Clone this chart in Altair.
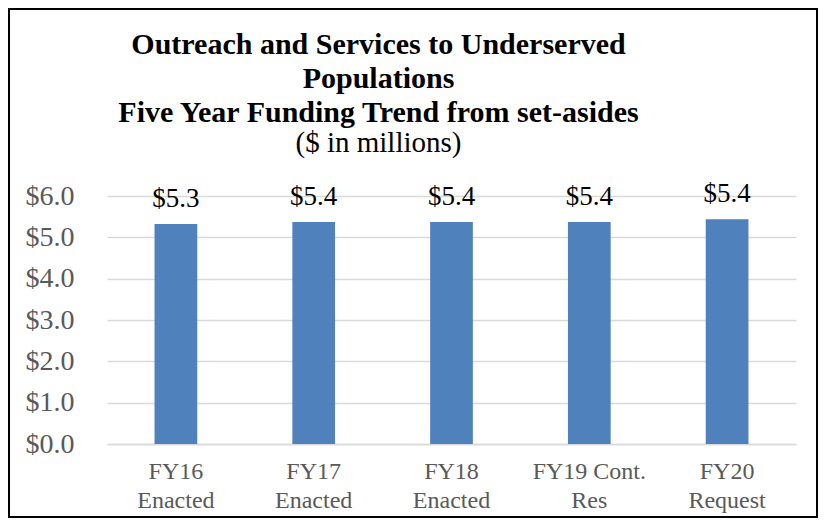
import altair as alt
import pandas as pd

categories = ["FY16|Enacted", "FY17|Enacted", "FY18|Enacted", "FY19 Cont.|Res", "FY20|Request"]
values = [5.32, 5.37, 5.37, 5.37, 5.44]
y_ticks = [0, 1, 2, 3, 4, 5, 6]

df = pd.DataFrame({"cat": categories, "val": values})

FONT = "Liberation Serif"

base = alt.Chart(df).encode(
    x=alt.X(
        "cat:N",
        sort=categories,
        title=None,
        scale=alt.Scale(paddingInner=0.69, paddingOuter=0.345),
        axis=alt.Axis(
            labelExpr="split(datum.label, '|')",
            labelFont=FONT,
            labelFontSize=24,
            labelColor="#595959",
            labelLineHeight=29,
            labelPadding=15,
            labelAngle=0,
            ticks=False,
            domain=True,
            domainColor="#D9D9D9",
            domainWidth=1.5,
            grid=False,
        ),
    ),
    y=alt.Y(
        "val:Q",
        title=None,
        scale=alt.Scale(domain=[0, 6], nice=False),
        axis=alt.Axis(
            values=y_ticks,
            format="$.1f",
            labelFont=FONT,
            labelFontSize=28,
            labelColor="#595959",
            labelPadding=33,
            ticks=False,
            domain=False,
            grid=True,
            gridColor="#D9D9D9",
            gridWidth=1.5,
        ),
    ),
)

bars = base.mark_bar(color="#4F81BD")
labels = base.mark_text(
    baseline="alphabetic", dy=-17, font=FONT, fontSize=27, color="black"
).encode(text=alt.Text("val:Q", format="$.1f"))

frame = alt.Chart(pd.DataFrame({"k": [0]})).mark_rect(
    fill="transparent", stroke="black", strokeWidth=2
).encode(
    x=alt.value(-98), x2=alt.value(710), y=alt.value(-187), y2=alt.value(321)
)

chart = alt.layer(bars, labels, frame).properties(
    width=689,
    height=248,
    autosize=alt.AutoSizeParams(type="none"),
    padding={"left": 99, "top": 188, "right": 23, "bottom": 74},
    title=alt.TitleParams(
        text=["Outreach and Services to Underserved", "Populations", "Five Year Funding Trend from set-asides"],
        subtitle="($ in millions)",
        font=FONT,
        fontSize=30,
        fontWeight="bold",
        color="black",
        lineHeight=34,
        subtitleFont=FONT,
        subtitleFontSize=29,
        subtitleColor="black",
        subtitleFontWeight="normal",
        subtitlePadding=1,
        anchor="middle",
        dx=-73,
        offset=-150,
    ),
).configure_view(stroke=None)

chart.save("out.html", embed_options={"renderer": "svg", "actions": False})
